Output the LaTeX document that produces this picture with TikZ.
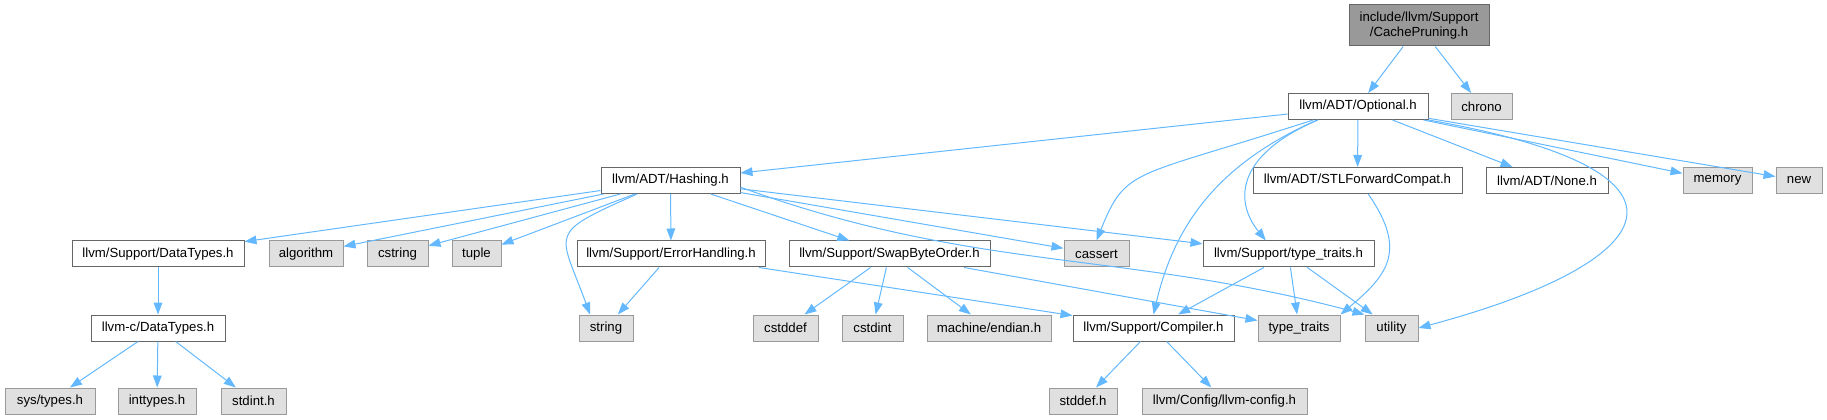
\documentclass[tikz,border=0pt]{standalone}
\usepackage{fontspec}
\setmainfont{Liberation Sans}
\usepackage{tikz}
\usetikzlibrary{arrows.meta}

\definecolor{edgeblue}{HTML}{63B8FF}
\definecolor{extfill}{HTML}{E0E0E0}
\definecolor{extline}{HTML}{999999}
\definecolor{hdrline}{HTML}{666666}
\definecolor{topfill}{HTML}{999999}

\begin{document}
\begin{tikzpicture}[
  x=0.75pt, y=0.75pt,
  font=\fontsize{9.9pt}{11.6pt}\selectfont,
  hdrbox/.style={rectangle, draw=hdrline, line width=0.75pt, fill=white,
                 minimum height=19.5pt, inner sep=0pt, align=center},
  extbox/.style={hdrbox, draw=extline, fill=extfill},
  topbox/.style={hdrbox, fill=topfill, minimum height=30.75pt},
  boxw/.style={minimum width=#1*0.75pt},
  dep/.style={draw=edgeblue, line width=0.75pt, -{Triangle[length=9pt,width=6.5pt]}}
]
  \useasboundingbox (0,0) rectangle (1827,-420);

  \node[topbox, boxw=140] (prune) at (1419,-25.5) {include/llvm/Support\\/CachePruning.h};
  \node[hdrbox, boxw=140] (opt) at (1358,-106.5) {llvm/ADT/Optional.h};
  \node[extbox, boxw=61] (chrono) at (1481.5,-106.5) {chrono};

  \node[hdrbox, boxw=139] (hash) at (670.5,-180.5) {llvm/ADT/Hashing.h};
  \node[hdrbox, boxw=209] (stl) at (1357.5,-180.5) {llvm/ADT/STLForwardCompat.h};
  \node[hdrbox, boxw=122] (none) at (1547,-180.5) {llvm/ADT/None.h};
  \node[extbox, boxw=69] (memory) at (1717.5,-180.5) {memory};
  \node[extbox, boxw=46] (new) at (1799,-180.5) {new};

  \node[hdrbox, boxw=172] (dts) at (158,-254) {llvm/Support/DataTypes.h};
  \node[extbox, boxw=74] (algo) at (306,-254) {algorithm};
  \node[extbox, boxw=61] (cstr) at (397.5,-254) {cstring};
  \node[extbox, boxw=49] (tuple) at (476.5,-254) {tuple};
  \node[hdrbox, boxw=188] (err) at (671,-254) {llvm/Support/ErrorHandling.h};
  \node[hdrbox, boxw=201] (swap) at (889.5,-254) {llvm/Support/SwapByteOrder.h};
  \node[extbox, boxw=65] (cassert) at (1096.5,-254) {cassert};
  \node[hdrbox, boxw=171] (tth) at (1288.5,-254) {llvm/Support/type\_traits.h};

  \node[hdrbox, boxw=134] (dtc) at (158,-328) {llvm-c/DataTypes.h};
  \node[extbox, boxw=54] (str) at (606,-328) {string};
  \node[extbox, boxw=65] (cstddef) at (785.5,-328) {cstddef};
  \node[extbox, boxw=61] (cstdint) at (872.5,-328) {cstdint};
  \node[extbox, boxw=124] (endian) at (989,-328) {machine/endian.h};
  \node[hdrbox, boxw=161] (comp) at (1153.5,-328) {llvm/Support/Compiler.h};
  \node[extbox, boxw=82] (tt) at (1299,-328) {type\_traits};
  \node[extbox, boxw=53] (util) at (1391.5,-328) {utility};

  \node[extbox, boxw=90] (systypes) at (50,-401) {sys/types.h};
  \node[extbox, boxw=78] (inttypes) at (157,-401) {inttypes.h};
  \node[extbox, boxw=65] (stdint) at (253.5,-401) {stdint.h};
  \node[extbox, boxw=68] (stddef) at (1083,-401) {stddef.h};
  \node[extbox, boxw=165] (cfg) at (1224.5,-401) {llvm/Config/llvm-config.h};

  % top file
  \draw[dep] (prune) -- (opt);
  \draw[dep] (prune) -- (chrono);

  % Optional.h
  \draw[dep] (opt) -- (hash);
  \draw[dep] (opt) -- (stl);
  \draw[dep] (opt) -- (none);
  \draw[dep] (opt) -- (memory);
  \draw[dep] (opt) -- (new);
  \draw[dep] ([xshift=-33.75pt]opt.south) .. controls +(198:190) and +(68:80) .. (cassert.north);
  \draw[dep] ([xshift=-30.75pt]opt.south) .. controls +(204:100) and +(77:100) .. (comp.north);
  \draw[dep] ([xshift=-30pt]opt.south) .. controls +(203:90) and +(129:50) .. ([xshift=-17pt]tth.north);
  \draw[dep] (opt.south east) .. controls +(-10:300) and +(15:250) .. (util.east);

  % Hashing.h
  \draw[dep] (hash) -- (dts);
  \draw[dep] (hash) -- (algo);
  \draw[dep] (hash) -- (cstr);
  \draw[dep] (hash) -- (tuple);
  \draw[dep] (hash) -- (err);
  \draw[dep] (hash) -- (swap);
  \draw[dep] (hash) -- (cassert);
  \draw[dep] (hash) -- (tth);
  \draw[dep] ([xshift=-25pt]hash.south) .. controls +(204:100) and +(110:90) .. ([xshift=-12pt]str.north);
  \draw[dep] ([yshift=-5pt]hash.east) .. controls +(-20:250) and +(165:250) .. (util.north west);

  \draw[dep] (dts) -- (dtc);
  \draw[dep] (dtc) -- (systypes);
  \draw[dep] (dtc) -- (inttypes);
  \draw[dep] (dtc) -- (stdint);

  \draw[dep] (err) -- (str);
  \draw[dep] (err) -- (comp);

  \draw[dep] (swap) -- (cstddef);
  \draw[dep] (swap) -- (cstdint);
  \draw[dep] (swap) -- (endian);
  \draw[dep] (swap) -- (tt);

  \draw[dep] ([xshift=8pt]stl.south) .. controls +(-55:70) and +(40:60) .. (tt.north east);

  \draw[dep] (tth) -- (comp);
  \draw[dep] (tth) -- (tt);
  \draw[dep] (tth) -- (util);

  \draw[dep] (comp) -- (stddef);
  \draw[dep] (comp) -- (cfg);
\end{tikzpicture}
\end{document}
